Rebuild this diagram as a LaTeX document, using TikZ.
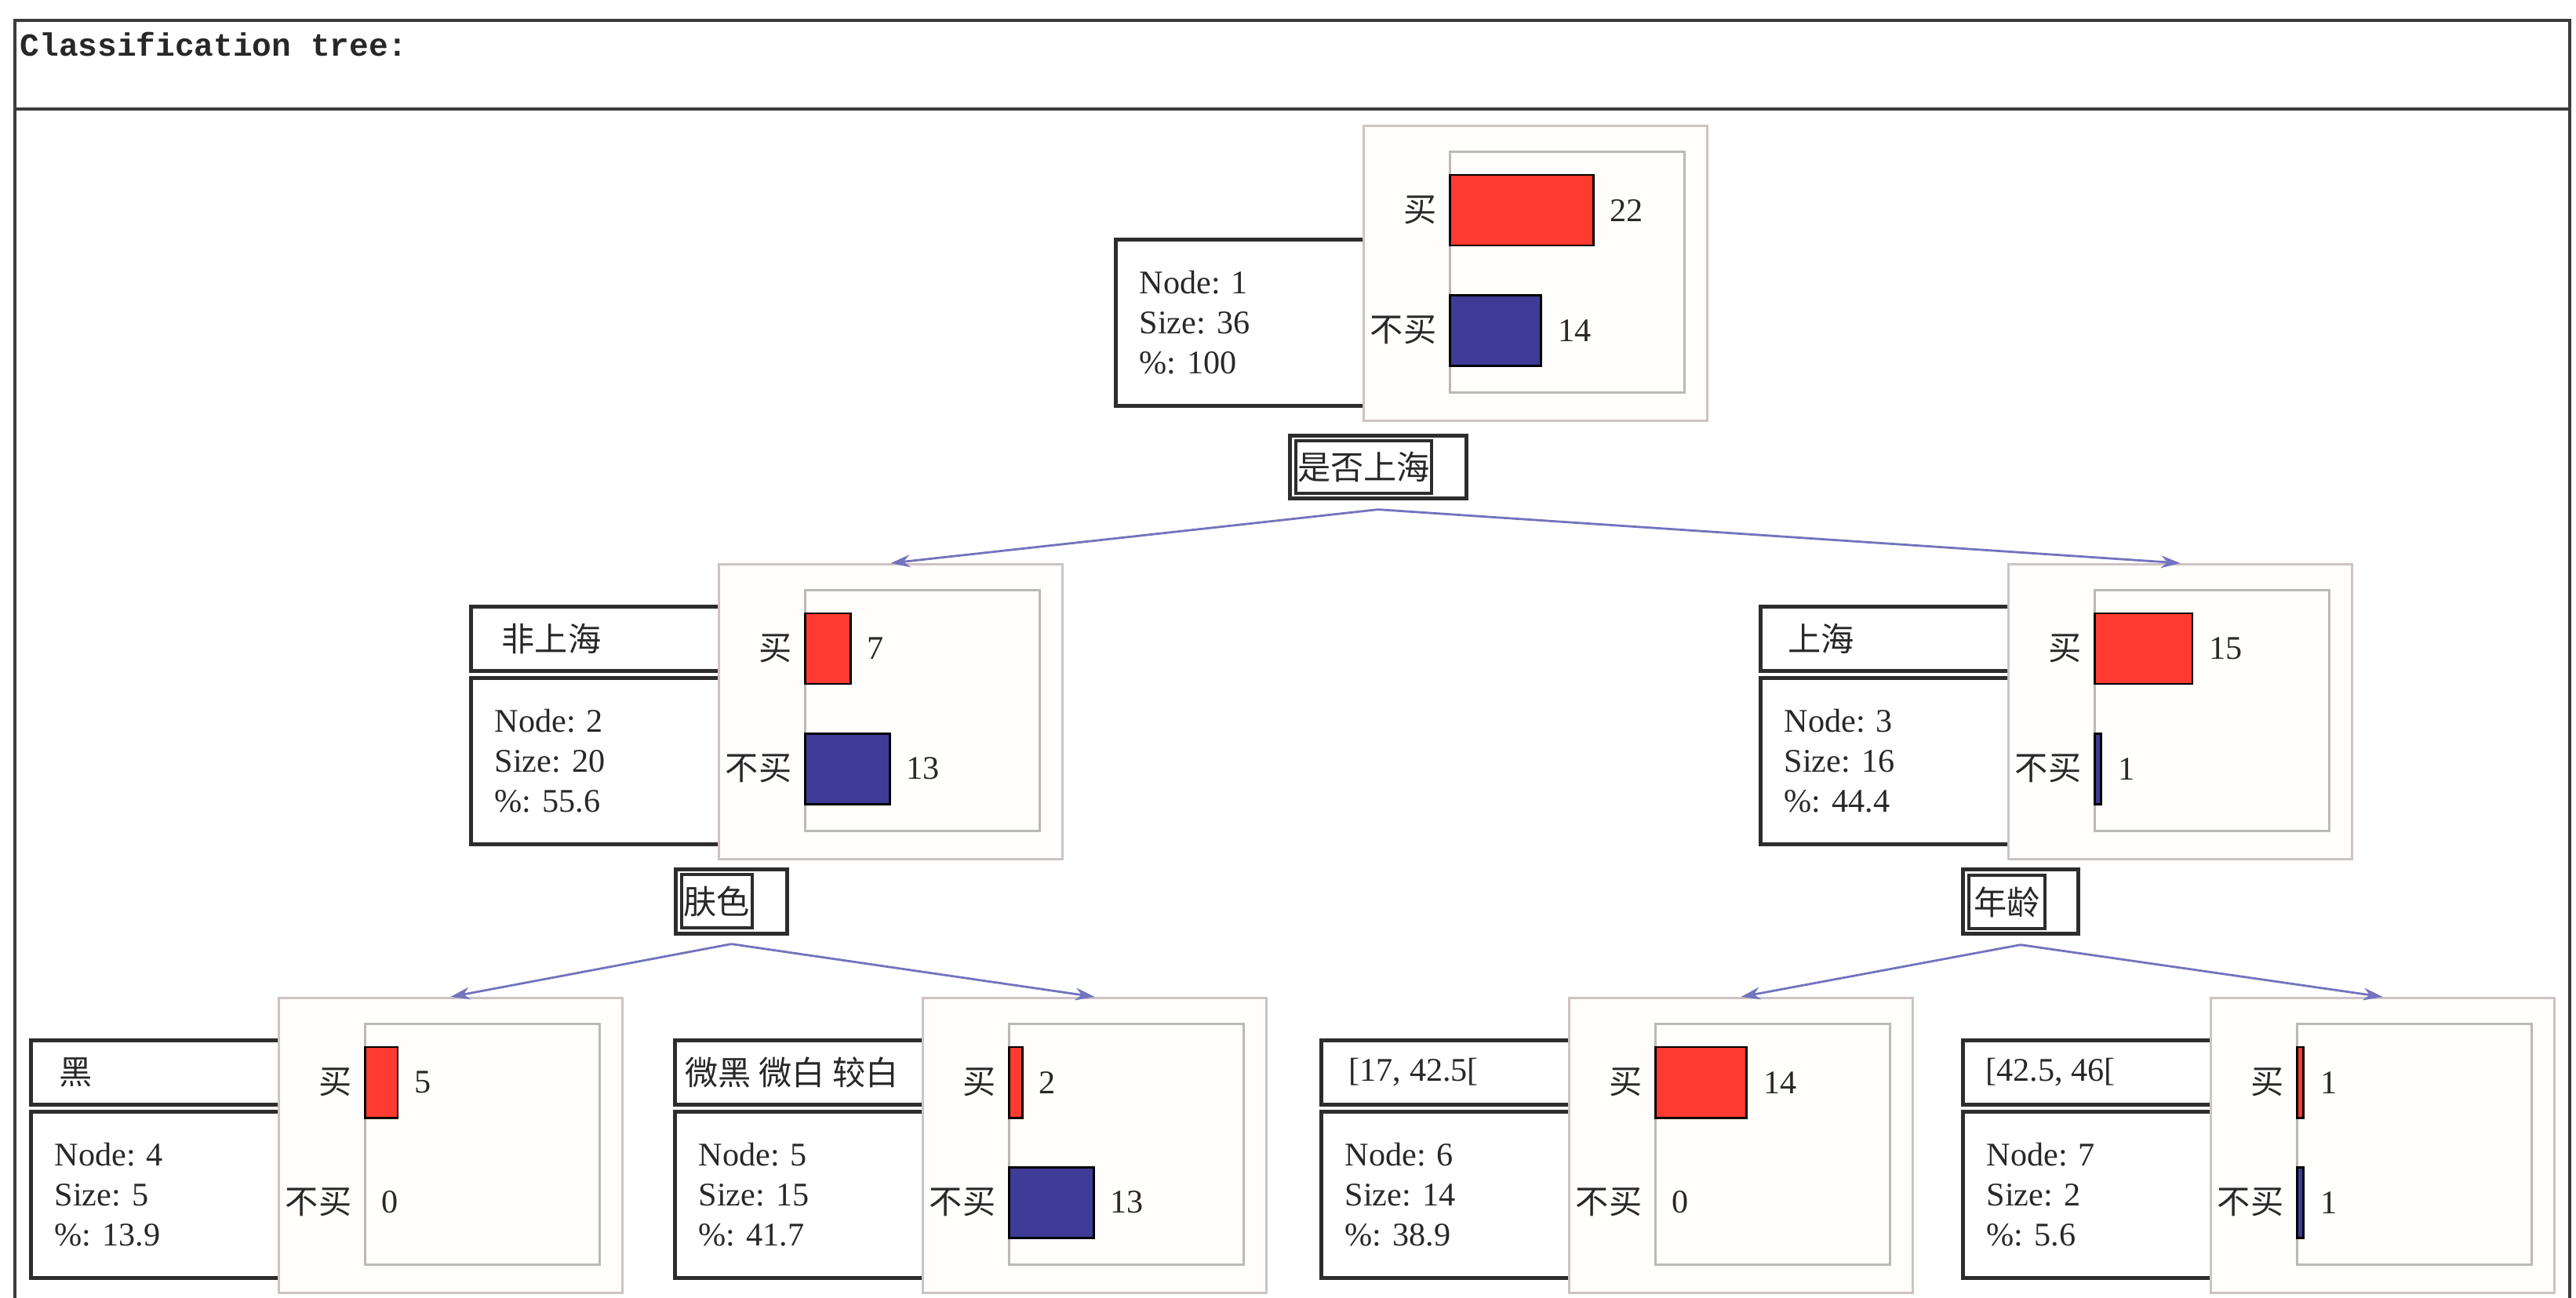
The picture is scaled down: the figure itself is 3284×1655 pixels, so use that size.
\documentclass[tikz,border=0pt]{standalone}
\usepackage{fontspec}
\setmainfont{Liberation Serif}
\newfontfamily\cjk{Noto Sans CJK SC}
\newfontfamily\monofont{Liberation Mono}
\usetikzlibrary{arrows.meta}
\definecolor{framecol}{RGB}{60,60,60}
\definecolor{boxdark}{RGB}{45,45,45}
\definecolor{outerline}{RGB}{205,195,195}
\definecolor{innerline}{RGB}{185,185,185}
\definecolor{outerfill}{RGB}{255,254,252}
\definecolor{buyred}{RGB}{255,58,48}
\definecolor{nobuyblue}{RGB}{62,60,150}
\definecolor{edgecol}{RGB}{115,115,190}
\definecolor{txt}{RGB}{40,40,40}

\tikzset{
  framestyle/.style={draw=framecol, line width=1.3pt},
  outerbox/.style={draw=outerline, fill=outerfill, line width=0.8pt, minimum width=4.38cm, minimum height=3.76cm, inner sep=0pt},
  innerbox/.style={draw=innerline, line width=0.8pt, minimum width=2.99cm, minimum height=3.07cm, inner sep=0pt},
  condbox/.style={draw=boxdark, fill=white, line width=1.3pt, minimum width=3.35cm, minimum height=0.82cm, inner sep=0pt},
  infobox/.style={draw=boxdark, fill=white, line width=1.3pt, minimum width=3.35cm, minimum height=2.12cm, inner sep=0pt},
  infotext/.style={align=left, inner sep=0pt, text=txt},
  plaintext/.style={inner sep=0pt, text=txt},
  barbuy/.style={draw=black, fill=buyred, line width=0.8pt, minimum height=0.9cm, inner sep=0pt},
  barno/.style={draw=black, fill=nobuyblue, line width=0.8pt, minimum height=0.9cm, inner sep=0pt},
  splitout/.style={draw=boxdark, fill=white, line width=1.3pt, inner sep=0pt, anchor=north west},
  splitin/.style={draw=boxdark, line width=1.1pt, inner sep=0pt, anchor=north west, text=txt, font=\cjk},
  treeedge/.style={draw=edgecol, line width=0.8pt, -{Stealth[length=7pt, width=4.5pt]}},
}

% #1 name, #2 outer left, #3 outer top, #4 condition text, #5 info text,
% #6 count buy, #7 count not buy, #8 condition text indent (px)
\newcommand\treenode[8]{%
  \if\relax\detokenize{#4}\relax\else
    \node[condbox, anchor=north west] (#1-cond) at (#2-317,#3+53) {};
    \node[plaintext, anchor=west] (#1-ct) at ([xshift=#8*0.01cm]#1-cond.west) {#4};
  \fi
  \node[infobox, anchor=north west] (#1-info) at (#2-317,#3+144) {};
  \node[infotext, anchor=west] (#1-it) at ([xshift=0.32cm]#1-info.west) {#5};
  \node[outerbox, anchor=north west] (#1) at (#2,#3) {};
  \node[innerbox, anchor=north west] (#1-in) at ([xshift=1.1cm,yshift=-0.33cm]#1.north west) {};
  \coordinate (#1-r1) at ([yshift=-0.76cm]#1-in.north west);
  \coordinate (#1-r2) at ([yshift=-2.29cm]#1-in.north west);
  \ifnum#6>0 \node[barbuy, minimum width={#6*0.083cm}, anchor=west] (#1-b1) at (#1-r1) {};\fi
  \ifnum#7>0 \node[barno, minimum width={#7*0.083cm}, anchor=west] (#1-b2) at (#1-r2) {};\fi
  \node[plaintext, anchor=west] (#1-v1) at ([xshift={#6*0.083cm+0.22cm}]#1-r1) {#6};
  \node[plaintext, anchor=west] (#1-v2) at ([xshift={#7*0.083cm+0.22cm}]#1-r2) {#7};
  \node[plaintext, anchor=east, font=\cjk] (#1-l1) at ([xshift=-0.15cm]#1-r1) {买};
  \node[plaintext, anchor=east, font=\cjk] (#1-l2) at ([xshift=-0.15cm]#1-r2) {不买};
}

\begin{document}
\fontsize{12pt}{14.5pt}\selectfont
\begin{tikzpicture}[x=0.01cm, y=-0.01cm]
\useasboundingbox (0,0) rectangle (3284,1655);
\fill[white] (0,0) rectangle (3284,1655);

% outer frame
\draw[framestyle] (19,1655) -- (19,26) -- (3276,26) -- (3276,1655);
\draw[framestyle] (19,139) -- (3276,139);
\node[anchor=base west, inner sep=0pt, text=txt, font={\monofont\bfseries\fontsize{11.7pt}{14pt}\selectfont}] (title) at (25,72) {Classification tree:};

% tree nodes
\treenode{n1}{1737}{159}{}{Node: 1\\Size: 36\\\%: 100}{22}{14}{0}
\treenode{n2}{915}{718}{\cjk 非上海}{Node: 2\\Size: 20\\\%: 55.6}{7}{13}{41}
\treenode{n3}{2559}{718}{\cjk 上海}{Node: 3\\Size: 16\\\%: 44.4}{15}{1}{37}
\treenode{n4}{354}{1271}{\cjk 黑}{Node: 4\\Size: 5\\\%: 13.9}{5}{0}{38}
\treenode{n5}{1175}{1271}{\cjk 微黑 微白 较白}{Node: 5\\Size: 15\\\%: 41.7}{2}{13}{15}
\treenode{n6}{1999}{1271}{[17, 42.5[}{Node: 6\\Size: 14\\\%: 38.9}{14}{0}{37}
\treenode{n7}{2817}{1271}{[42.5, 46[}{Node: 7\\Size: 2\\\%: 5.6}{1}{1}{31}

% split variable boxes
\node[splitout, minimum width=2.25cm, minimum height=0.80cm] (s1) at (1642,553) {};
\node[splitin, minimum width=1.73cm, minimum height=0.67cm] (s1in) at (1650,560) {是否上海};
\node[splitout, minimum width=1.42cm, minimum height=0.82cm] (s2) at (859,1106) {};
\node[splitin, minimum width=0.90cm, minimum height=0.68cm] (s2in) at (867,1113) {肤色};
\node[splitout, minimum width=1.47cm, minimum height=0.82cm] (s3) at (2500,1106) {};
\node[splitin, minimum width=0.97cm, minimum height=0.68cm] (s3in) at (2508,1114) {年龄};

% connectors
\coordinate (s1a) at ([yshift=-0.12cm]s1.south);
\coordinate (s2a) at ([yshift=-0.11cm]s2.south);
\coordinate (s3a) at ([yshift=-0.12cm]s3.south);
\draw[treeedge] (s1a) -- (n2.north);
\draw[treeedge] (s1a) -- (n3.north);
\draw[treeedge] (s2a) -- (n4.north);
\draw[treeedge] (s2a) -- (n5.north);
\draw[treeedge] (s3a) -- (n6.north);
\draw[treeedge] (s3a) -- (n7.north);
\end{tikzpicture}
\end{document}
